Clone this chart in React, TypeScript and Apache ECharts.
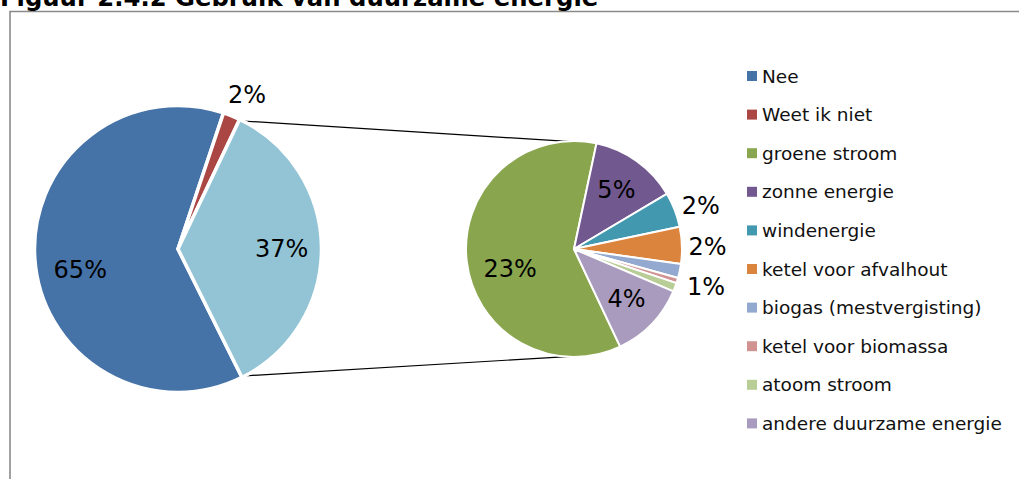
import React, { useEffect, useRef } from 'react';
import * as echarts from 'echarts';

const titleText = 'Figuur 2.4.2 Gebruik van duurzame energie';

const mainNames = ['Nee', 'Weet ik niet', 'Overig'];
const mainValues = [65, 2, 37];

const subNames = [
  'groene stroom',
  'zonne energie',
  'windenergie',
  'ketel voor afvalhout',
  'biogas (mestvergisting)',
  'ketel voor biomassa',
  'atoom stroom',
  'andere duurzame energie',
];
const subValues = [23, 5, 2, 2.1, 0.8, 0.3, 0.5, 4.4];

const legendNames = ['Nee', 'Weet ik niet', ...subNames];

const mainColors = ['#4572A7', '#AA4643', '#93C4D5'];
const subColors = ['#89A54E', '#71588F', '#4198AF', '#DB843D', '#93A9CF', '#D19392', '#B9CD96', '#A99BBD'];

// geometry (styling)
const C1 = { x: 178, y: 249, r: 142, startCW: 153.5 };
const C2 = { x: 574, y: 249, r: 107, startCW: 154.7 };

const mainLabelCfg = [
  { f: 0.69, dx: 0, dy: 14, align: 'center', show: true },
  { f: 1.17, dx: 7, dy: 0, align: 'center', show: true },
  { f: 0.73, dx: 0, dy: 1, align: 'center', show: true },
];
const subLabelCfg = [
  { f: 0.62, dx: 2, dy: 12, align: 'center', show: true },
  { f: 0.68, dx: 0, dy: 0, align: 'center', show: true },
  { f: 1.07, dx: 1, dy: -1, align: 'left', show: true },
  { f: 1.07, dx: 0, dy: 2, align: 'left', show: true },
  { f: 1.07, dx: 1, dy: 15, align: 'left', show: true },
  { f: 1.07, dx: 0, dy: 0, align: 'left', show: false },
  { f: 1.07, dx: 0, dy: 0, align: 'left', show: false },
  { f: 0.68, dx: 0, dy: 0, align: 'center', show: true },
];

const FONT = "'DejaVu Sans', Verdana, sans-serif";

function angles(values: number[], startCW: number) {
  const total = values.reduce((a, b) => a + b, 0);
  let cum = 0;
  return values.map((v) => {
    const s = startCW + (cum / total) * 360;
    cum += v;
    const e = startCW + (cum / total) * 360;
    return { s, e, m: (s + e) / 2 };
  });
}

function pt(c: { x: number; y: number }, r: number, degCW: number) {
  const a = (degCW * Math.PI) / 180;
  return [c.x + r * Math.sin(a), c.y - r * Math.cos(a)];
}

export default function App() {
  const ref = useRef<HTMLDivElement>(null);
  useEffect(() => {
    if (!ref.current) return;
    const chart = echarts.init(ref.current, null, { renderer: 'svg' });
    const mainAng = angles(mainValues, C1.startCW);
    const subAng = angles(subValues, C2.startCW);
    const other = mainAng[2];
    const p1 = pt(C1, C1.r, other.s);
    const p2 = pt(C1, C1.r, other.e);
    const q1 = pt(C2, C2.r, 3);
    const q2 = pt(C2, C2.r, 177);

    const mkLayout = (C: any, ang: any[], cfg: any[]) => (p: any) => {
      const i = p.dataIndex;
      const c = cfg[i];
      const [x, y] = pt(C, C.r * c.f, ang[i].m);
      return { x: x + c.dx, y: y + c.dy, align: c.align, verticalAlign: 'middle' };
    };

    chart.setOption({
      animation: false,
      color: [...mainColors, ...subColors],
      textStyle: { fontFamily: FONT },
      legend: {
        data: legendNames,
        orient: 'vertical',
        left: 742,
        top: 61,
        icon: 'rect',
        itemWidth: 10,
        itemHeight: 10,
        itemGap: 18.6,
        selectedMode: false,
        itemStyle: { borderWidth: 0 },
        textStyle: { fontSize: 18.5, lineHeight: 20, color: '#111', fontFamily: FONT },
      },
      graphic: [
        {
          type: 'rect',
          shape: { x: 10, y: 11.5, width: 1030, height: 500 },
          style: { fill: 'none', stroke: '#8a8a8a', lineWidth: 1.6 },
          silent: true,
          z: 0,
        },
        {
          type: 'text',
          x: 0,
          y: -2.5,
          style: {
            text: titleText,
            fontFamily: FONT,
            fontWeight: 'bold',
            fontSize: 24.3,
            fill: '#000',
            verticalAlign: 'middle',
          },
          z: 10,
        },
        {
          type: 'line',
          shape: { x1: p1[0], y1: p1[1], x2: q1[0], y2: q1[1] },
          style: { stroke: '#000', lineWidth: 1.2 },
          z: 1,
        },
        {
          type: 'line',
          shape: { x1: p2[0], y1: p2[1], x2: q2[0], y2: q2[1] },
          style: { stroke: '#000', lineWidth: 1.2 },
          z: 1,
        },
      ],
      series: [
        {
          type: 'pie',
          center: [C1.x, C1.y],
          radius: [0, C1.r + 1.5],
          startAngle: 90 - C1.startCW,
          clockwise: true,
          silent: true,
          itemStyle: { borderColor: '#fff', borderWidth: 3.5 },
          label: {
            show: true,
            position: 'inside',
            fontSize: 24,
            color: '#000',
            fontFamily: FONT,
            formatter: (p: any) => `${Math.round(p.value)}%`,
          },
          labelLine: { show: false },
          labelLayout: mkLayout(C1, mainAng, mainLabelCfg),
          data: mainNames.map((n, i) => ({
            name: n,
            value: mainValues[i],
            itemStyle: { color: mainColors[i] },
            label: { show: mainLabelCfg[i].show },
          })),
        },
        {
          type: 'pie',
          center: [C2.x, C2.y],
          radius: [0, C2.r + 1],
          startAngle: 90 - C2.startCW,
          clockwise: true,
          silent: true,
          itemStyle: { borderColor: '#fff', borderWidth: 2 },
          label: {
            show: true,
            position: 'inside',
            fontSize: 24,
            color: '#000',
            fontFamily: FONT,
            formatter: (p: any) => `${Math.round(p.value)}%`,
          },
          labelLine: { show: false },
          labelLayout: mkLayout(C2, subAng, subLabelCfg),
          data: subNames.map((n, i) => ({
            name: n,
            value: subValues[i],
            itemStyle: { color: subColors[i] },
            label: { show: subLabelCfg[i].show },
          })),
        },
      ],
    });
    return () => chart.dispose();
  }, []);
  return (
    <div
      ref={ref}
      style={{ position: 'fixed', left: 0, top: 0, width: 1019, height: 479, background: '#fff' }}
    />
  );
}
